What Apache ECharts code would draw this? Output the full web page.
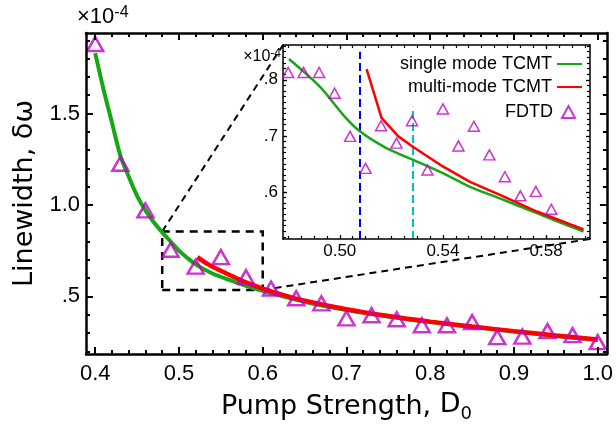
<!DOCTYPE html>
<html><head><meta charset="utf-8">
<script src="https://cdn.jsdelivr.net/npm/echarts@6/dist/echarts.min.js"></script>
<style>html,body{margin:0;padding:0;background:#fff}#c{width:616px;height:428px}</style>
</head><body><div id="c"></div>
<script>
// ---------- main plot data (values in units of 1e-4) ----------
const fdtdX = [0.40,0.43,0.46,0.49,0.52,0.55,0.58,0.61,0.64,0.67,0.70,0.73,0.76,0.79,0.82,0.85,0.88,0.91,0.94,0.97,1.00];
const fdtdY = [1.88,1.225,0.97,0.755,0.663,0.715,0.605,0.543,0.49,0.462,0.38,0.397,0.375,0.342,0.342,0.36,0.277,0.28,0.31,0.288,0.25];
const singleX = [0.40,0.41,0.42,0.43,0.44,0.45,0.46,0.47,0.48,0.49,0.50,0.51,0.52,0.54,0.56,0.58,0.60,0.65,0.70,0.75,0.80,0.85,0.90,0.95,1.00];
const singleY = [1.83,1.63,1.45,1.27,1.155,1.05,0.97,0.905,0.85,0.80,0.75,0.71,0.675,0.625,0.59,0.558,0.53,0.47,0.425,0.39,0.36,0.333,0.308,0.284,0.262];
const multiX = [0.522,0.535,0.55,0.565,0.58,0.60,0.625,0.65,0.70,0.75,0.80,0.85,0.90,0.95,1.00];
const multiY = [0.715,0.675,0.64,0.607,0.577,0.543,0.507,0.477,0.43,0.393,0.362,0.335,0.31,0.286,0.264];
const zoomBoxX = [0.48, 0.60];
const zoomBoxY = [0.535, 0.855];

// ---------- inset data ----------
const insetFdtdX = [0.480,0.486,0.492,0.498,0.504,0.510,0.516,0.522,0.528,0.534,0.540,0.546,0.552,0.558,0.564,0.570,0.576,0.582];
const insetFdtdY = [0.813,0.813,0.813,0.776,0.699,0.642,0.718,0.687,0.727,0.639,0.748,0.682,0.717,0.666,0.627,0.593,0.601,0.569];
const insetSingleX = [0.4803,0.4922,0.5013,0.5078,0.5181,0.5285,0.5401,0.5505,0.5634,0.5764,0.5945];
const insetSingleY = [0.837,0.788,0.7375,0.708,0.678,0.657,0.633,0.609,0.586,0.562,0.529];
const insetMultiX = [0.5104,0.5162,0.5227,0.5285,0.5401,0.5505,0.5634,0.5764,0.5945];
const insetMultiY = [0.819,0.732,0.699,0.68,0.645,0.618,0.592,0.565,0.533];
const vLineX = [0.5078, 0.5282];
const vLineTop = [0.85, 0.752];

// ---------- axis ranges & ticks ----------
const mainXRange = [0.389, 1.011];
const mainYRange = [0.185, 1.94];
const insetXRange = [0.478, 0.597];
const insetYRange = [0.516, 0.862];
const mainXLabels = [0.4,0.5,0.6,0.7,0.8,0.9,1.0];
const mainXMinor = [0.40,0.42,0.44,0.46,0.48,0.50,0.52,0.54,0.56,0.58,0.60,0.62,0.64,0.66,0.68,0.70,0.72,0.74,0.76,0.78,0.80,0.82,0.84,0.86,0.88,0.90,0.92,0.94,0.96,0.98,1.00];
const mainYLabels = [0.5,1.0,1.5];
const mainYMinor = [0.2,0.3,0.4,0.5,0.6,0.7,0.8,0.9,1.0,1.1,1.2,1.3,1.4,1.5,1.6,1.7,1.8,1.9];
const insetXLabels = [0.50,0.54,0.58];
const insetXMinor = [0.48,0.485,0.49,0.495,0.50,0.505,0.51,0.515,0.52,0.525,0.53,0.535,0.54,0.545,0.55,0.555,0.56,0.565,0.57,0.575,0.58,0.585,0.59,0.595];
const insetYLabels = [0.6,0.7,0.8];
const insetYMinor = [0.52,0.53,0.54,0.55,0.56,0.57,0.58,0.59,0.60,0.61,0.62,0.63,0.64,0.65,0.66,0.67,0.68,0.69,0.70,0.71,0.72,0.73,0.74,0.75,0.76,0.77,0.78,0.79,0.80,0.81,0.82,0.83,0.84,0.85,0.86];
const legendLines = ['single mode TCMT', 'multi-mode TCMT'];
const legendMarks = ['FDTD'];

const zip = (xs, ys) => xs.map((x, i) => [x, ys[i]]);
const TICKFONT = 'Liberation Sans, Arial, sans-serif';
const TITLEFONT = 'DejaVu Sans, sans-serif';

function makeAxes(dim, gridIndex, range, labels, minor, fmt, o) {
  const pos = dim === 'x' ? ['bottom', 'top'] : ['left', 'right'];
  const out = [];
  pos.forEach((p, pi) => {
    [true, false].forEach(isMajor => {
      const ax = {
        type: 'value', gridIndex, min: range[0], max: range[1], position: p,
        axisLine: {show: isMajor, onZero: false, lineStyle: {color: '#000', width: o.lw}},
        axisTick: {show: true, inside: true, length: isMajor ? o.majLen : o.minLen,
                   lineStyle: {color: '#000', width: o.tw}, customValues: isMajor ? labels : minor},
        axisLabel: {show: isMajor && pi === 0, customValues: labels, formatter: fmt,
                    fontSize: o.fs, fontFamily: TICKFONT, color: '#000', margin: o.margin, hideOverlap: false},
        splitLine: {show: false}, minorTick: {show: false}, z: 5
      };
      if (isMajor && pi === 0 && o.name) Object.assign(ax, o.name);
      out.push(ax);
    });
  });
  return out;
}

const xAxes = [].concat(
  makeAxes('x', 0, mainXRange, mainXLabels, mainXMinor, v => v.toFixed(1),
    {lw: 2.5, tw: 2, majLen: 7, minLen: 4, fs: 22, margin: 9,
     name: {name: 'Pump Strength, {s|D}{b|0}', nameLocation: 'middle', nameGap: 37,
            nameTextStyle: {fontSize: 27, fontFamily: TITLEFONT, color: '#000',
              rich: {s: {fontSize: 27, fontFamily: TITLEFONT, padding: [0, 0, 5, 0]},
                     b: {fontSize: 18, fontFamily: TITLEFONT, verticalAlign: 'bottom'}}}}}),
  makeAxes('x', 1, insetXRange, insetXLabels, insetXMinor, v => v.toFixed(2),
    {lw: 1.5, tw: 1.2, majLen: 4, minLen: 3, fs: 17, margin: 4})
);
const yAxes = [].concat(
  makeAxes('y', 0, mainYRange, mainYLabels, mainYMinor, v => (v === 0.5 ? '.5' : v.toFixed(1)),
    {lw: 2.5, tw: 2, majLen: 7, minLen: 4, fs: 22, margin: 6,
     name: {name: 'Linewidth, δω', nameLocation: 'middle', nameGap: 47, nameRotate: 90,
            nameTextStyle: {fontSize: 27, fontFamily: TITLEFONT, color: '#000'}}}),
  makeAxes('y', 1, insetYRange, insetYLabels, insetYMinor, v => '.' + Math.round(v * 10),
    {lw: 1.5, tw: 1.2, majLen: 4, minLen: 3, fs: 17, margin: 5})
);

const GREEN = '#14a814', RED = '#ff0000', MAG = '#c000c0';
const legendText = {fontSize: 18, fontFamily: TICKFONT, color: '#000'};
const option = {
  animation: false,
  backgroundColor: '#fff',
  grid: [
    {left: 86, top: 33, width: 522, height: 323},
    {left: 283, top: 45, width: 307, height: 194, show: true, backgroundColor: '#fff', borderWidth: 0, z: 3}
  ],
  xAxis: xAxes,
  yAxis: yAxes,
  legend: [
    {data: legendLines.map(n => ({name: n, itemStyle: {opacity: 0}})),
     orient: 'vertical', align: 'right', right: 33, top: 55, padding: 0,
     itemWidth: 25, itemHeight: 13, itemGap: 5, selectedMode: false, textStyle: legendText},
    {data: legendMarks,
     orient: 'vertical', align: 'right', right: 40, top: 103, padding: 0,
     itemWidth: 13, itemHeight: 12, itemGap: 5, selectedMode: false,
     textStyle: Object.assign({padding: [0, 4, 0, 0]}, legendText)}
  ],
  series: [
    {name: 'main single', type: 'line', xAxisIndex: 0, yAxisIndex: 0, data: zip(singleX, singleY),
     symbol: 'none', smooth: 0.3, lineStyle: {color: GREEN, width: 4}, itemStyle: {color: GREEN}, z: 2,
     markArea: {silent: true, itemStyle: {color: 'rgba(0,0,0,0)', borderColor: '#000', borderWidth: 2.5, borderType: [8, 6]},
       data: [[{coord: [zoomBoxX[0], zoomBoxY[0]]}, {coord: [zoomBoxX[1], zoomBoxY[1]]}]]}},
    {name: 'main multi', type: 'line', xAxisIndex: 0, yAxisIndex: 0, data: zip(multiX, multiY),
     symbol: 'none', smooth: 0.3, lineStyle: {color: RED, width: 4.5}, itemStyle: {color: RED}, z: 3},
    {name: 'main FDTD', type: 'scatter', xAxisIndex: 0, yAxisIndex: 0, data: zip(fdtdX, fdtdY),
     symbol: 'triangle', symbolSize: [16, 14], itemStyle: {color: 'rgba(0,0,0,0)', borderColor: MAG, borderWidth: 2.5}, z: 4},
    {name: 'single mode TCMT', type: 'line', xAxisIndex: 4, yAxisIndex: 4, data: zip(insetSingleX, insetSingleY),
     symbol: 'none', smooth: 0.3, lineStyle: {color: GREEN, width: 2.5}, itemStyle: {color: GREEN}, z: 6,
     markLine: {silent: true, symbol: ['none', 'none'], label: {show: false},
       data: [
         [{coord: [vLineX[0], insetYRange[0]], lineStyle: {color: '#0000ff', width: 2, type: [8, 4]}}, {coord: [vLineX[0], vLineTop[0]]}],
         [{coord: [vLineX[1], insetYRange[0]], lineStyle: {color: '#00c0c0', width: 2, type: [8, 4]}}, {coord: [vLineX[1], vLineTop[1]]}]
       ]}},
    {name: 'multi-mode TCMT', type: 'line', xAxisIndex: 4, yAxisIndex: 4, data: zip(insetMultiX, insetMultiY),
     symbol: 'none', smooth: false, lineStyle: {color: RED, width: 2.5}, itemStyle: {color: RED}, z: 6},
    {name: 'FDTD', type: 'scatter', xAxisIndex: 4, yAxisIndex: 4, data: zip(insetFdtdX, insetFdtdY),
     symbol: 'triangle', symbolSize: [11, 10], itemStyle: {color: 'rgba(0,0,0,0)', borderColor: MAG, borderWidth: 1.5}, z: 7}
  ]
};

const chart = echarts.init(document.getElementById('c'), null, {renderer: 'canvas'});
chart.setOption(option);

const a1 = chart.convertToPixel({seriesIndex: 0}, [zoomBoxX[0], zoomBoxY[1]]);
const b1 = chart.convertToPixel({seriesIndex: 3}, [insetXRange[0], insetYRange[1]]);
const a2 = chart.convertToPixel({seriesIndex: 0}, [zoomBoxX[1], zoomBoxY[0]]);
const b2 = chart.convertToPixel({seriesIndex: 3}, [insetXRange[1], insetYRange[0]]);
const dash = {stroke: '#000', lineWidth: 2, lineDash: [7, 5]};
chart.setOption({
  graphic: [
    {type: 'line', shape: {x1: a1[0], y1: a1[1], x2: b1[0], y2: b1[1]}, style: dash, z: 1, silent: true},
    {type: 'line', shape: {x1: a2[0], y1: a2[1], x2: b2[0], y2: b2[1]}, style: dash, z: 1, silent: true},
    {type: 'text', left: 77, top: 5, z: 10, silent: true,
     style: {text: '×10{p|-4}', fill: '#000', font: '22px ' + TICKFONT,
             rich: {p: {fontSize: 16, fontFamily: TICKFONT, verticalAlign: 'top', padding: [0, 0, 8, 0]}}}},
    {type: 'text', right: 616 - 281, top: 48, z: 10, silent: true,
     style: {text: '×10{p|-4}', fill: '#000', font: '16px ' + TICKFONT,
             rich: {p: {fontSize: 12, fontFamily: TICKFONT, verticalAlign: 'top', padding: [0, 0, 6, 0]}}}}
  ]
});
</script></body></html>
